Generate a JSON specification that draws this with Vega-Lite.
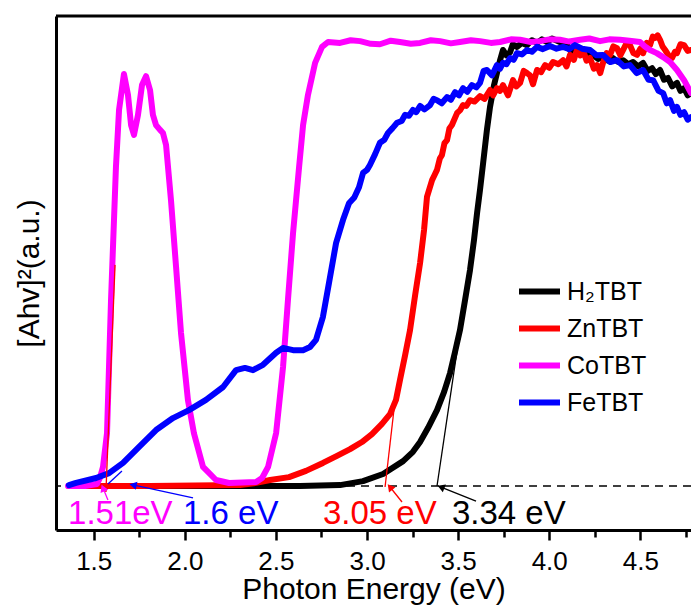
{
  "$schema": "https://vega.github.io/schema/vega-lite/v6.json",
  "width": 635,
  "height": 514,
  "autosize": "none",
  "padding": {"left": 56, "top": 16, "right": 0, "bottom": 75},
  "background": "white",
  "config": {
    "view": {"stroke": null},
    "font": "Liberation Sans",
    "axis": {"labelFont": "Liberation Sans", "titleFont": "Liberation Sans", "titleFontWeight": "normal", "labelColor": "black", "titleColor": "black", "domainColor": "black", "tickColor": "black", "grid": false}
  },
  "datasets": {
    "curves": [
      {"s":"H₂TBT","E":1.364,"A":0},{"s":"H₂TBT","E":2.632,"A":0},{"s":"H₂TBT","E":2.852,"A":0.002},{"s":"H₂TBT","E":2.978,"A":0.011},{"s":"H₂TBT","E":3.088,"A":0.027},{"s":"H₂TBT","E":3.198,"A":0.056},{"s":"H₂TBT","E":3.252,"A":0.077},{"s":"H₂TBT","E":3.291,"A":0.099},{"s":"H₂TBT","E":3.335,"A":0.131},{"s":"H₂TBT","E":3.384,"A":0.171},{"s":"H₂TBT","E":3.423,"A":0.212},{"s":"H₂TBT","E":3.456,"A":0.255},{"s":"H₂TBT","E":3.483,"A":0.302},{"s":"H₂TBT","E":3.510,"A":0.351},{"s":"H₂TBT","E":3.538,"A":0.419},{"s":"H₂TBT","E":3.565,"A":0.486},{"s":"H₂TBT","E":3.587,"A":0.554},{"s":"H₂TBT","E":3.604,"A":0.615},{"s":"H₂TBT","E":3.620,"A":0.667},{"s":"H₂TBT","E":3.637,"A":0.727},{"s":"H₂TBT","E":3.658,"A":0.802},{"s":"H₂TBT","E":3.675,"A":0.854},{"s":"H₂TBT","E":3.697,"A":0.903},{"s":"H₂TBT","E":3.713,"A":0.930},{"s":"H₂TBT","E":3.730,"A":0.959},{"s":"H₂TBT","E":3.746,"A":0.982},{"s":"H₂TBT","E":3.765,"A":0.970},{"s":"H₂TBT","E":3.785,"A":0.977},{"s":"H₂TBT","E":3.800,"A":0.995},{"s":"H₂TBT","E":3.823,"A":0.989},{"s":"H₂TBT","E":3.850,"A":0.998},{"s":"H₂TBT","E":3.878,"A":0.993},{"s":"H₂TBT","E":3.905,"A":1.004},{"s":"H₂TBT","E":3.933,"A":0.998},{"s":"H₂TBT","E":3.960,"A":1.006},{"s":"H₂TBT","E":3.988,"A":1.000},{"s":"H₂TBT","E":4.015,"A":1.008},{"s":"H₂TBT","E":4.043,"A":1.003},{"s":"H₂TBT","E":4.070,"A":0.998},{"s":"H₂TBT","E":4.098,"A":0.993},{"s":"H₂TBT","E":4.120,"A":0.978},{"s":"H₂TBT","E":4.141,"A":0.986},{"s":"H₂TBT","E":4.165,"A":0.975},{"s":"H₂TBT","E":4.185,"A":0.982},{"s":"H₂TBT","E":4.212,"A":0.968},{"s":"H₂TBT","E":4.240,"A":0.971},{"s":"H₂TBT","E":4.268,"A":0.962},{"s":"H₂TBT","E":4.295,"A":0.966},{"s":"H₂TBT","E":4.322,"A":0.958},{"s":"H₂TBT","E":4.350,"A":0.964},{"s":"H₂TBT","E":4.378,"A":0.955},{"s":"H₂TBT","E":4.405,"A":0.959},{"s":"H₂TBT","E":4.433,"A":0.950},{"s":"H₂TBT","E":4.460,"A":0.955},{"s":"H₂TBT","E":4.488,"A":0.945},{"s":"H₂TBT","E":4.515,"A":0.953},{"s":"H₂TBT","E":4.540,"A":0.935},{"s":"H₂TBT","E":4.564,"A":0.941},{"s":"H₂TBT","E":4.585,"A":0.928},{"s":"H₂TBT","E":4.608,"A":0.937},{"s":"H₂TBT","E":4.630,"A":0.915},{"s":"H₂TBT","E":4.652,"A":0.919},{"s":"H₂TBT","E":4.675,"A":0.900},{"s":"H₂TBT","E":4.701,"A":0.908},{"s":"H₂TBT","E":4.720,"A":0.890},{"s":"H₂TBT","E":4.740,"A":0.896},{"s":"H₂TBT","E":4.760,"A":0.880},{"s":"H₂TBT","E":4.778,"A":0.885},

      {"s":"ZnTBT","E":1.364,"A":0},{"s":"ZnTBT","E":1.809,"A":0},{"s":"ZnTBT","E":2.303,"A":0.002},{"s":"ZnTBT","E":2.391,"A":0.007},{"s":"ZnTBT","E":2.468,"A":0.0135},{"s":"ZnTBT","E":2.572,"A":0.020},{"s":"ZnTBT","E":2.665,"A":0.034},{"s":"ZnTBT","E":2.758,"A":0.052},{"s":"ZnTBT","E":2.835,"A":0.068},{"s":"ZnTBT","E":2.907,"A":0.083},{"s":"ZnTBT","E":2.972,"A":0.099},{"s":"ZnTBT","E":3.027,"A":0.117},{"s":"ZnTBT","E":3.082,"A":0.140},{"s":"ZnTBT","E":3.126,"A":0.162},{"s":"ZnTBT","E":3.159,"A":0.194},{"s":"ZnTBT","E":3.181,"A":0.239},{"s":"ZnTBT","E":3.209,"A":0.295},{"s":"ZnTBT","E":3.236,"A":0.351},{"s":"ZnTBT","E":3.264,"A":0.430},{"s":"ZnTBT","E":3.291,"A":0.502},{"s":"ZnTBT","E":3.313,"A":0.577},{"s":"ZnTBT","E":3.329,"A":0.651},{"s":"ZnTBT","E":3.357,"A":0.689},{"s":"ZnTBT","E":3.370,"A":0.700},{"s":"ZnTBT","E":3.384,"A":0.712},{"s":"ZnTBT","E":3.400,"A":0.738},{"s":"ZnTBT","E":3.411,"A":0.745},{"s":"ZnTBT","E":3.425,"A":0.772},{"s":"ZnTBT","E":3.439,"A":0.779},{"s":"ZnTBT","E":3.452,"A":0.805},{"s":"ZnTBT","E":3.466,"A":0.813},{"s":"ZnTBT","E":3.494,"A":0.840},{"s":"ZnTBT","E":3.510,"A":0.846},{"s":"ZnTBT","E":3.527,"A":0.858},{"s":"ZnTBT","E":3.545,"A":0.856},{"s":"ZnTBT","E":3.565,"A":0.869},{"s":"ZnTBT","E":3.590,"A":0.866},{"s":"ZnTBT","E":3.620,"A":0.878},{"s":"ZnTBT","E":3.645,"A":0.872},{"s":"ZnTBT","E":3.675,"A":0.892},{"s":"ZnTBT","E":3.692,"A":0.880},{"s":"ZnTBT","E":3.713,"A":0.896},{"s":"ZnTBT","E":3.730,"A":0.890},{"s":"ZnTBT","E":3.746,"A":0.903},{"s":"ZnTBT","E":3.774,"A":0.880},{"s":"ZnTBT","E":3.801,"A":0.914},{"s":"ZnTBT","E":3.820,"A":0.900},{"s":"ZnTBT","E":3.840,"A":0.908},{"s":"ZnTBT","E":3.860,"A":0.935},{"s":"ZnTBT","E":3.878,"A":0.930},{"s":"ZnTBT","E":3.895,"A":0.925},{"s":"ZnTBT","E":3.911,"A":0.905},{"s":"ZnTBT","E":3.933,"A":0.937},{"s":"ZnTBT","E":3.955,"A":0.932},{"s":"ZnTBT","E":3.977,"A":0.948},{"s":"ZnTBT","E":4.000,"A":0.942},{"s":"ZnTBT","E":4.021,"A":0.955},{"s":"ZnTBT","E":4.050,"A":0.950},{"s":"ZnTBT","E":4.076,"A":0.959},{"s":"ZnTBT","E":4.095,"A":0.945},{"s":"ZnTBT","E":4.114,"A":0.971},{"s":"ZnTBT","E":4.135,"A":0.960},{"s":"ZnTBT","E":4.152,"A":0.982},{"s":"ZnTBT","E":4.170,"A":0.970},{"s":"ZnTBT","E":4.185,"A":0.982},{"s":"ZnTBT","E":4.205,"A":0.958},{"s":"ZnTBT","E":4.224,"A":0.964},{"s":"ZnTBT","E":4.245,"A":0.940},{"s":"ZnTBT","E":4.262,"A":0.948},{"s":"ZnTBT","E":4.280,"A":0.930},{"s":"ZnTBT","E":4.295,"A":0.953},{"s":"ZnTBT","E":4.315,"A":0.975},{"s":"ZnTBT","E":4.334,"A":0.971},{"s":"ZnTBT","E":4.352,"A":0.990},{"s":"ZnTBT","E":4.372,"A":0.986},{"s":"ZnTBT","E":4.390,"A":0.970},{"s":"ZnTBT","E":4.405,"A":0.982},{"s":"ZnTBT","E":4.425,"A":0.998},{"s":"ZnTBT","E":4.443,"A":0.993},{"s":"ZnTBT","E":4.462,"A":0.975},{"s":"ZnTBT","E":4.482,"A":0.971},{"s":"ZnTBT","E":4.500,"A":0.985},{"s":"ZnTBT","E":4.515,"A":0.975},{"s":"ZnTBT","E":4.535,"A":0.998},{"s":"ZnTBT","E":4.553,"A":0.993},{"s":"ZnTBT","E":4.568,"A":1.012},{"s":"ZnTBT","E":4.581,"A":1.009},{"s":"ZnTBT","E":4.595,"A":1.015},{"s":"ZnTBT","E":4.608,"A":1.005},{"s":"ZnTBT","E":4.622,"A":0.990},{"s":"ZnTBT","E":4.636,"A":0.982},{"s":"ZnTBT","E":4.655,"A":0.970},{"s":"ZnTBT","E":4.674,"A":0.964},{"s":"ZnTBT","E":4.690,"A":0.978},{"s":"ZnTBT","E":4.701,"A":0.975},{"s":"ZnTBT","E":4.720,"A":0.995},{"s":"ZnTBT","E":4.740,"A":0.993},{"s":"ZnTBT","E":4.760,"A":0.980},{"s":"ZnTBT","E":4.778,"A":0.982},

      {"s":"CoTBT","E":1.359,"A":0},{"s":"CoTBT","E":1.452,"A":0},{"s":"CoTBT","E":1.518,"A":0.0045},{"s":"CoTBT","E":1.534,"A":0.018},{"s":"CoTBT","E":1.551,"A":0.043},{"s":"CoTBT","E":1.573,"A":0.119},{"s":"CoTBT","E":1.595,"A":0.419},{"s":"CoTBT","E":1.622,"A":0.718},{"s":"CoTBT","E":1.639,"A":0.847},{"s":"CoTBT","E":1.666,"A":0.928},{"s":"CoTBT","E":1.688,"A":0.881},{"s":"CoTBT","E":1.705,"A":0.813},{"s":"CoTBT","E":1.721,"A":0.791},{"s":"CoTBT","E":1.743,"A":0.836},{"s":"CoTBT","E":1.765,"A":0.903},{"s":"CoTBT","E":1.787,"A":0.923},{"s":"CoTBT","E":1.809,"A":0.892},{"s":"CoTBT","E":1.825,"A":0.836},{"s":"CoTBT","E":1.842,"A":0.813},{"s":"CoTBT","E":1.864,"A":0.802},{"s":"CoTBT","E":1.880,"A":0.795},{"s":"CoTBT","E":1.897,"A":0.768},{"s":"CoTBT","E":1.924,"A":0.644},{"s":"CoTBT","E":1.952,"A":0.493},{"s":"CoTBT","E":1.979,"A":0.345},{"s":"CoTBT","E":2.017,"A":0.194},{"s":"CoTBT","E":2.050,"A":0.119},{"s":"CoTBT","E":2.100,"A":0.043},{"s":"CoTBT","E":2.171,"A":0.0135},{"s":"CoTBT","E":2.243,"A":0.0068},{"s":"CoTBT","E":2.391,"A":0.009},{"s":"CoTBT","E":2.424,"A":0.018},{"s":"CoTBT","E":2.457,"A":0.043},{"s":"CoTBT","E":2.501,"A":0.119},{"s":"CoTBT","E":2.539,"A":0.268},{"s":"CoTBT","E":2.566,"A":0.419},{"s":"CoTBT","E":2.594,"A":0.570},{"s":"CoTBT","E":2.627,"A":0.718},{"s":"CoTBT","E":2.649,"A":0.813},{"s":"CoTBT","E":2.676,"A":0.881},{"s":"CoTBT","E":2.715,"A":0.953},{"s":"CoTBT","E":2.753,"A":0.989},{"s":"CoTBT","E":2.786,"A":1.0},{"s":"CoTBT","E":2.852,"A":0.998},{"s":"CoTBT","E":2.910,"A":1.004},{"s":"CoTBT","E":2.962,"A":1.002},{"s":"CoTBT","E":3.020,"A":0.996},{"s":"CoTBT","E":3.071,"A":0.995},{"s":"CoTBT","E":3.130,"A":1.003},{"s":"CoTBT","E":3.181,"A":1.0},{"s":"CoTBT","E":3.240,"A":0.996},{"s":"CoTBT","E":3.291,"A":0.998},{"s":"CoTBT","E":3.350,"A":1.004},{"s":"CoTBT","E":3.401,"A":1.002},{"s":"CoTBT","E":3.460,"A":0.997},{"s":"CoTBT","E":3.510,"A":1.0},{"s":"CoTBT","E":3.570,"A":1.004},{"s":"CoTBT","E":3.620,"A":1.002},{"s":"CoTBT","E":3.680,"A":0.998},{"s":"CoTBT","E":3.730,"A":1.0},{"s":"CoTBT","E":3.790,"A":1.006},{"s":"CoTBT","E":3.840,"A":1.005},{"s":"CoTBT","E":3.900,"A":1.000},{"s":"CoTBT","E":3.949,"A":1.002},{"s":"CoTBT","E":4.000,"A":1.006},{"s":"CoTBT","E":4.059,"A":1.005},{"s":"CoTBT","E":4.110,"A":1.001},{"s":"CoTBT","E":4.169,"A":1.005},{"s":"CoTBT","E":4.220,"A":1.008},{"s":"CoTBT","E":4.279,"A":1.002},{"s":"CoTBT","E":4.330,"A":1.006},{"s":"CoTBT","E":4.389,"A":1.005},{"s":"CoTBT","E":4.440,"A":1.003},{"s":"CoTBT","E":4.498,"A":1.0},{"s":"CoTBT","E":4.525,"A":0.990},{"s":"CoTBT","E":4.553,"A":0.982},{"s":"CoTBT","E":4.590,"A":0.975},{"s":"CoTBT","E":4.625,"A":0.966},{"s":"CoTBT","E":4.663,"A":0.955},{"s":"CoTBT","E":4.701,"A":0.937},{"s":"CoTBT","E":4.740,"A":0.914},{"s":"CoTBT","E":4.778,"A":0.885},

      {"s":"FeTBT","E":1.364,"A":0.002},{"s":"FeTBT","E":1.403,"A":0.007},{"s":"FeTBT","E":1.513,"A":0.018},{"s":"FeTBT","E":1.584,"A":0.029},{"s":"FeTBT","E":1.661,"A":0.052},{"s":"FeTBT","E":1.749,"A":0.088},{"s":"FeTBT","E":1.842,"A":0.126},{"s":"FeTBT","E":1.935,"A":0.153},{"s":"FeTBT","E":2.023,"A":0.171},{"s":"FeTBT","E":2.116,"A":0.194},{"s":"FeTBT","E":2.210,"A":0.223},{"s":"FeTBT","E":2.281,"A":0.261},{"s":"FeTBT","E":2.330,"A":0.266},{"s":"FeTBT","E":2.374,"A":0.261},{"s":"FeTBT","E":2.429,"A":0.273},{"s":"FeTBT","E":2.501,"A":0.300},{"s":"FeTBT","E":2.539,"A":0.311},{"s":"FeTBT","E":2.594,"A":0.306},{"s":"FeTBT","E":2.649,"A":0.306},{"s":"FeTBT","E":2.687,"A":0.313},{"s":"FeTBT","E":2.720,"A":0.329},{"s":"FeTBT","E":2.758,"A":0.381},{"s":"FeTBT","E":2.791,"A":0.457},{"s":"FeTBT","E":2.830,"A":0.547},{"s":"FeTBT","E":2.868,"A":0.599},{"s":"FeTBT","E":2.901,"A":0.637},{"s":"FeTBT","E":2.930,"A":0.650},{"s":"FeTBT","E":2.956,"A":0.673},{"s":"FeTBT","E":2.978,"A":0.705},{"s":"FeTBT","E":3.000,"A":0.712},{"s":"FeTBT","E":3.016,"A":0.723},{"s":"FeTBT","E":3.045,"A":0.748},{"s":"FeTBT","E":3.071,"A":0.773},{"s":"FeTBT","E":3.095,"A":0.780},{"s":"FeTBT","E":3.115,"A":0.795},{"s":"FeTBT","E":3.140,"A":0.806},{"s":"FeTBT","E":3.165,"A":0.818},{"s":"FeTBT","E":3.190,"A":0.822},{"s":"FeTBT","E":3.209,"A":0.836},{"s":"FeTBT","E":3.230,"A":0.834},{"s":"FeTBT","E":3.252,"A":0.847},{"s":"FeTBT","E":3.270,"A":0.842},{"s":"FeTBT","E":3.291,"A":0.856},{"s":"FeTBT","E":3.315,"A":0.848},{"s":"FeTBT","E":3.346,"A":0.858},{"s":"FeTBT","E":3.365,"A":0.872},{"s":"FeTBT","E":3.384,"A":0.869},{"s":"FeTBT","E":3.410,"A":0.862},{"s":"FeTBT","E":3.439,"A":0.876},{"s":"FeTBT","E":3.460,"A":0.870},{"s":"FeTBT","E":3.483,"A":0.887},{"s":"FeTBT","E":3.505,"A":0.880},{"s":"FeTBT","E":3.527,"A":0.896},{"s":"FeTBT","E":3.550,"A":0.888},{"s":"FeTBT","E":3.576,"A":0.903},{"s":"FeTBT","E":3.600,"A":0.898},{"s":"FeTBT","E":3.620,"A":0.908},{"s":"FeTBT","E":3.640,"A":0.935},{"s":"FeTBT","E":3.658,"A":0.937},{"s":"FeTBT","E":3.686,"A":0.925},{"s":"FeTBT","E":3.713,"A":0.948},{"s":"FeTBT","E":3.730,"A":0.940},{"s":"FeTBT","E":3.746,"A":0.953},{"s":"FeTBT","E":3.765,"A":0.950},{"s":"FeTBT","E":3.785,"A":0.964},{"s":"FeTBT","E":3.805,"A":0.960},{"s":"FeTBT","E":3.823,"A":0.975},{"s":"FeTBT","E":3.850,"A":0.972},{"s":"FeTBT","E":3.878,"A":0.982},{"s":"FeTBT","E":3.905,"A":0.978},{"s":"FeTBT","E":3.933,"A":0.989},{"s":"FeTBT","E":3.965,"A":0.984},{"s":"FeTBT","E":4.004,"A":0.991},{"s":"FeTBT","E":4.040,"A":0.985},{"s":"FeTBT","E":4.076,"A":0.989},{"s":"FeTBT","E":4.110,"A":0.984},{"s":"FeTBT","E":4.141,"A":0.993},{"s":"FeTBT","E":4.180,"A":0.985},{"s":"FeTBT","E":4.224,"A":0.982},{"s":"FeTBT","E":4.260,"A":0.970},{"s":"FeTBT","E":4.295,"A":0.971},{"s":"FeTBT","E":4.335,"A":0.955},{"s":"FeTBT","E":4.372,"A":0.959},{"s":"FeTBT","E":4.410,"A":0.945},{"s":"FeTBT","E":4.443,"A":0.948},{"s":"FeTBT","E":4.480,"A":0.930},{"s":"FeTBT","E":4.515,"A":0.937},{"s":"FeTBT","E":4.545,"A":0.915},{"s":"FeTBT","E":4.570,"A":0.914},{"s":"FeTBT","E":4.600,"A":0.890},{"s":"FeTBT","E":4.625,"A":0.885},{"s":"FeTBT","E":4.645,"A":0.862},{"s":"FeTBT","E":4.663,"A":0.869},{"s":"FeTBT","E":4.685,"A":0.845},{"s":"FeTBT","E":4.701,"A":0.854},{"s":"FeTBT","E":4.720,"A":0.836},{"s":"FeTBT","E":4.740,"A":0.842},{"s":"FeTBT","E":4.760,"A":0.825},{"s":"FeTBT","E":4.778,"A":0.831}
    ],
    "guides": [
      {"id":"tanH","s":"H₂TBT","E":3.384,"A":0},{"id":"tanH","s":"H₂TBT","E":3.499,"A":0.318},
      {"id":"arrH","s":"H₂TBT","E":3.598,"A":-0.034},{"id":"arrH","s":"H₂TBT","E":3.406,"A":-0.0023},
      {"id":"tanZn","s":"ZnTBT","E":3.099,"A":-0.0023},{"id":"tanZn","s":"ZnTBT","E":3.154,"A":0.194},
      {"id":"arrZn","s":"ZnTBT","E":3.192,"A":-0.036},{"id":"arrZn","s":"ZnTBT","E":3.126,"A":-0.0023},
      {"id":"tanFe","s":"FeTBT","E":1.578,"A":0.0045},{"id":"tanFe","s":"FeTBT","E":1.655,"A":0.034},
      {"id":"arrFe","s":"FeTBT","E":2.045,"A":-0.027},{"id":"arrFe","s":"FeTBT","E":1.716,"A":0.0023},
      {"id":"arrCo","s":"CoTBT","E":1.578,"A":-0.0315},{"id":"arrCo","s":"CoTBT","E":1.551,"A":-0.0045}
    ],
    "tips": [
      {"id":"arrH","s":"H₂TBT","E":3.406,"A":-0.0023},
      {"id":"arrZn","s":"ZnTBT","E":3.126,"A":-0.0023},
      {"id":"arrFe","s":"FeTBT","E":1.716,"A":0.0023},
      {"id":"arrCo","s":"CoTBT","E":1.551,"A":-0.0045}
    ],
    "labels": [
      {"t":"1.51eV","s":"CoTBT","E":1.359,"A":-0.063},
      {"t":"1.6 eV","s":"FeTBT","E":1.990,"A":-0.063},
      {"t":"3.05 eV","s":"ZnTBT","E":2.758,"A":-0.063},
      {"t":"3.34 eV","s":"H₂TBT","E":3.466,"A":-0.063}
    ]
  },
  "layer": [
    {
      "data": {"values": [{}]},
      "mark": {"type": "rule", "color": "black", "strokeWidth": 1.5, "strokeDash": [8, 6]},
      "encoding": {"y": {"datum": 0, "type": "quantitative"}}
    },
    {
      "data": {"values": [{}]},
      "mark": {"type": "rule", "color": "black", "strokeWidth": 3},
      "encoding": {"y": {"datum": 1.0586, "type": "quantitative"}}
    },
    {
      "data": {"name": "curves"},
      "mark": {"type": "line", "strokeWidth": 6, "strokeJoin": "round", "strokeCap": "round", "clip": true},
      "encoding": {
        "x": {"field": "E", "type": "quantitative", "scale": {"domain": [1.293, 4.778], "nice": false, "zero": false},
          "axis": {"title": "Photon Energy (eV)", "values": [1.5, 1.75, 2.0, 2.25, 2.5, 2.75, 3.0, 3.25, 3.5, 3.75, 4.0, 4.25, 4.5, 4.75],
            "labelExpr": "abs(datum.value * 2 - round(datum.value * 2)) < 0.01 ? format(datum.value, '.1f') : ''",
            "tickSize": {"condition": {"test": "abs(datum.value * 2 - round(datum.value * 2)) < 0.01", "value": 10}, "value": 7},
            "labelFontSize": 26, "titleFontSize": 30, "domainWidth": 3, "tickWidth": 2.5, "labelPadding": 8, "titlePadding": 0, "labelFlush": false}},
        "y": {"field": "A", "type": "quantitative", "scale": {"domain": [-0.0991, 1.0586], "nice": false, "zero": false},
          "axis": {"title": "[Ahv]²(a.u.)", "labels": false, "ticks": false, "domainWidth": 3, "titleFontSize": 30, "titlePadding": 12}},
        "color": {"field": "s", "type": "nominal", "sort": null,
          "scale": {"domain": ["H₂TBT", "ZnTBT", "CoTBT", "FeTBT"], "range": ["#000000", "#ff0000", "#ff00ff", "#0000ff"]},
          "legend": {"title": null, "orient": "none", "legendX": 460, "legendY": 252, "symbolType": "stroke", "symbolSize": 1681, "symbolStrokeWidth": 6, "labelFontSize": 25, "labelFont": "Liberation Sans", "labelColor": "black", "labelOffset": 4, "rowPadding": -9}}
      }
    },
    {
      "data": {"name": "guides"},
      "mark": {"type": "line", "strokeWidth": 1.3},
      "encoding": {
        "x": {"field": "E", "type": "quantitative"},
        "y": {"field": "A", "type": "quantitative"},
        "detail": {"field": "id"},
        "color": {"field": "s", "type": "nominal", "legend": null}
      }
    },
    {
      "data": {"values": [{"E": 1.567, "A": -0.0135}, {"E": 1.617, "A": 0.498}]},
      "mark": {"type": "line", "strokeWidth": 1.3, "color": "#ff0000"},
      "encoding": {"x": {"field": "E", "type": "quantitative"}, "y": {"field": "A", "type": "quantitative"}}
    },
    {
      "data": {"name": "tips"},
      "transform": [{"filter": "datum.id === 'arrH'"}],
      "mark": {"type": "point", "shape": "triangle-up", "filled": true, "size": 70, "angle": -68, "opacity": 1},
      "encoding": {"x": {"field": "E", "type": "quantitative"}, "y": {"field": "A", "type": "quantitative"}, "color": {"field": "s", "type": "nominal", "legend": null}}
    },
    {
      "data": {"name": "tips"},
      "transform": [{"filter": "datum.id === 'arrZn'"}],
      "mark": {"type": "point", "shape": "triangle-up", "filled": true, "size": 70, "angle": -39, "opacity": 1},
      "encoding": {"x": {"field": "E", "type": "quantitative"}, "y": {"field": "A", "type": "quantitative"}, "color": {"field": "s", "type": "nominal", "legend": null}}
    },
    {
      "data": {"name": "tips"},
      "transform": [{"filter": "datum.id === 'arrFe'"}],
      "mark": {"type": "point", "shape": "triangle-up", "filled": true, "size": 70, "angle": -78, "opacity": 1},
      "encoding": {"x": {"field": "E", "type": "quantitative"}, "y": {"field": "A", "type": "quantitative"}, "color": {"field": "s", "type": "nominal", "legend": null}}
    },
    {
      "data": {"name": "tips"},
      "transform": [{"filter": "datum.id === 'arrCo'"}],
      "mark": {"type": "point", "shape": "triangle-up", "filled": true, "size": 70, "angle": -23, "opacity": 1},
      "encoding": {"x": {"field": "E", "type": "quantitative"}, "y": {"field": "A", "type": "quantitative"}, "color": {"field": "s", "type": "nominal", "legend": null}}
    },
    {
      "data": {"name": "labels"},
      "mark": {"type": "text", "align": "left", "baseline": "middle", "fontSize": 33, "font": "Liberation Sans"},
      "encoding": {"x": {"field": "E", "type": "quantitative"}, "y": {"field": "A", "type": "quantitative"}, "text": {"field": "t"}, "color": {"field": "s", "type": "nominal", "legend": null}}
    }
  ]
}
